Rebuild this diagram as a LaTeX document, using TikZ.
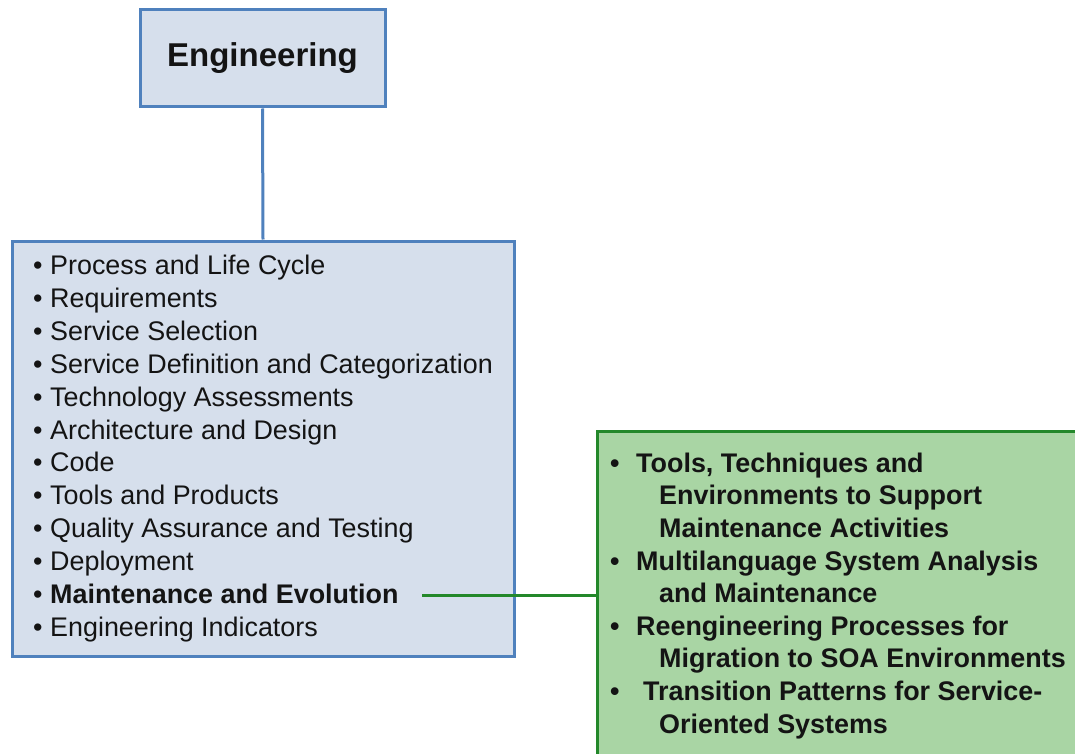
\documentclass[tikz,border=0pt]{standalone}
\usepackage{fontspec}
\setmainfont{Liberation Sans}
\definecolor{bluefill}{HTML}{D6DFEC}
\definecolor{blueline}{HTML}{4F81BD}
\definecolor{greenfill}{HTML}{A9D5A4}
\definecolor{greenline}{HTML}{23882A}
\definecolor{ink}{HTML}{141414}
\newcommand{\bl}[1]{\makebox[#1][l]{•}}
\begin{document}
\begin{tikzpicture}[x=1pt,y=-1pt,
  bluebox/.style={draw=blueline,fill=bluefill,line width=3pt,rectangle,inner sep=0pt},
  greenbox/.style={draw=greenline,fill=greenfill,line width=3pt,rectangle,inner sep=0pt},
  listtext/.style={text=ink,align=left,inner sep=0pt,font=\fontsize{26.9pt}{32.9pt}\selectfont},
  bluelink/.style={draw=blueline,line width=3pt},
  greenlink/.style={draw=greenline,line width=3pt}]
\useasboundingbox (0,0) rectangle (1075,754);
\fill[white] (0,0) rectangle (1075,754);
% title box
\node[bluebox,minimum width=245pt,minimum height=97pt,text=ink,
  font=\bfseries\fontsize{33pt}{38pt}\selectfont] (eng) at (262.5,58.5) {Engineering};
% list box
\node[bluebox,minimum width=502pt,minimum height=415pt,listtext] (list) at (263,448.5)
{\bl{17pt}Process and Life Cycle\\
\bl{17pt}Requirements\\
\bl{17pt}Service Selection\\
\bl{17pt}Service Definition and Categorization\\
\bl{17pt}Technology Assessments\\
\bl{17pt}Architecture and Design\\
\bl{17pt}Code\\
\bl{17pt}Tools and Products\\
\bl{17pt}Quality Assurance and Testing\\
\bl{17pt}Deployment\\
\bl{17pt}\textbf{Maintenance and Evolution}\\
\bl{17pt}Engineering Indicators};
\draw[bluelink] (eng.south) -- (list.north);
% green box
\node[greenbox,anchor=north west,minimum width=500pt,minimum height=345pt] (gbox) at (596,430) {};
\node[listtext,font=\bfseries\fontsize{26.9pt}{32.6pt}\selectfont,anchor=north west] (gtext) at (610,452.5)
{\bl{26pt}Tools, Techniques and\\
\hspace*{49pt}Environments to Support\\
\hspace*{49pt}Maintenance Activities\\
\bl{26pt}Multilanguage System Analysis\\
\hspace*{49pt}and Maintenance\\
\bl{26pt}Reengineering Processes for\\
\hspace*{49pt}Migration to SOA Environments\\
\bl{33pt}Transition Patterns for Service-\\
\hspace*{49pt}Oriented Systems};
\coordinate (me) at (422,595);
\draw[greenlink] (me) -- (me -| gbox.west);
\end{tikzpicture}
\end{document}
